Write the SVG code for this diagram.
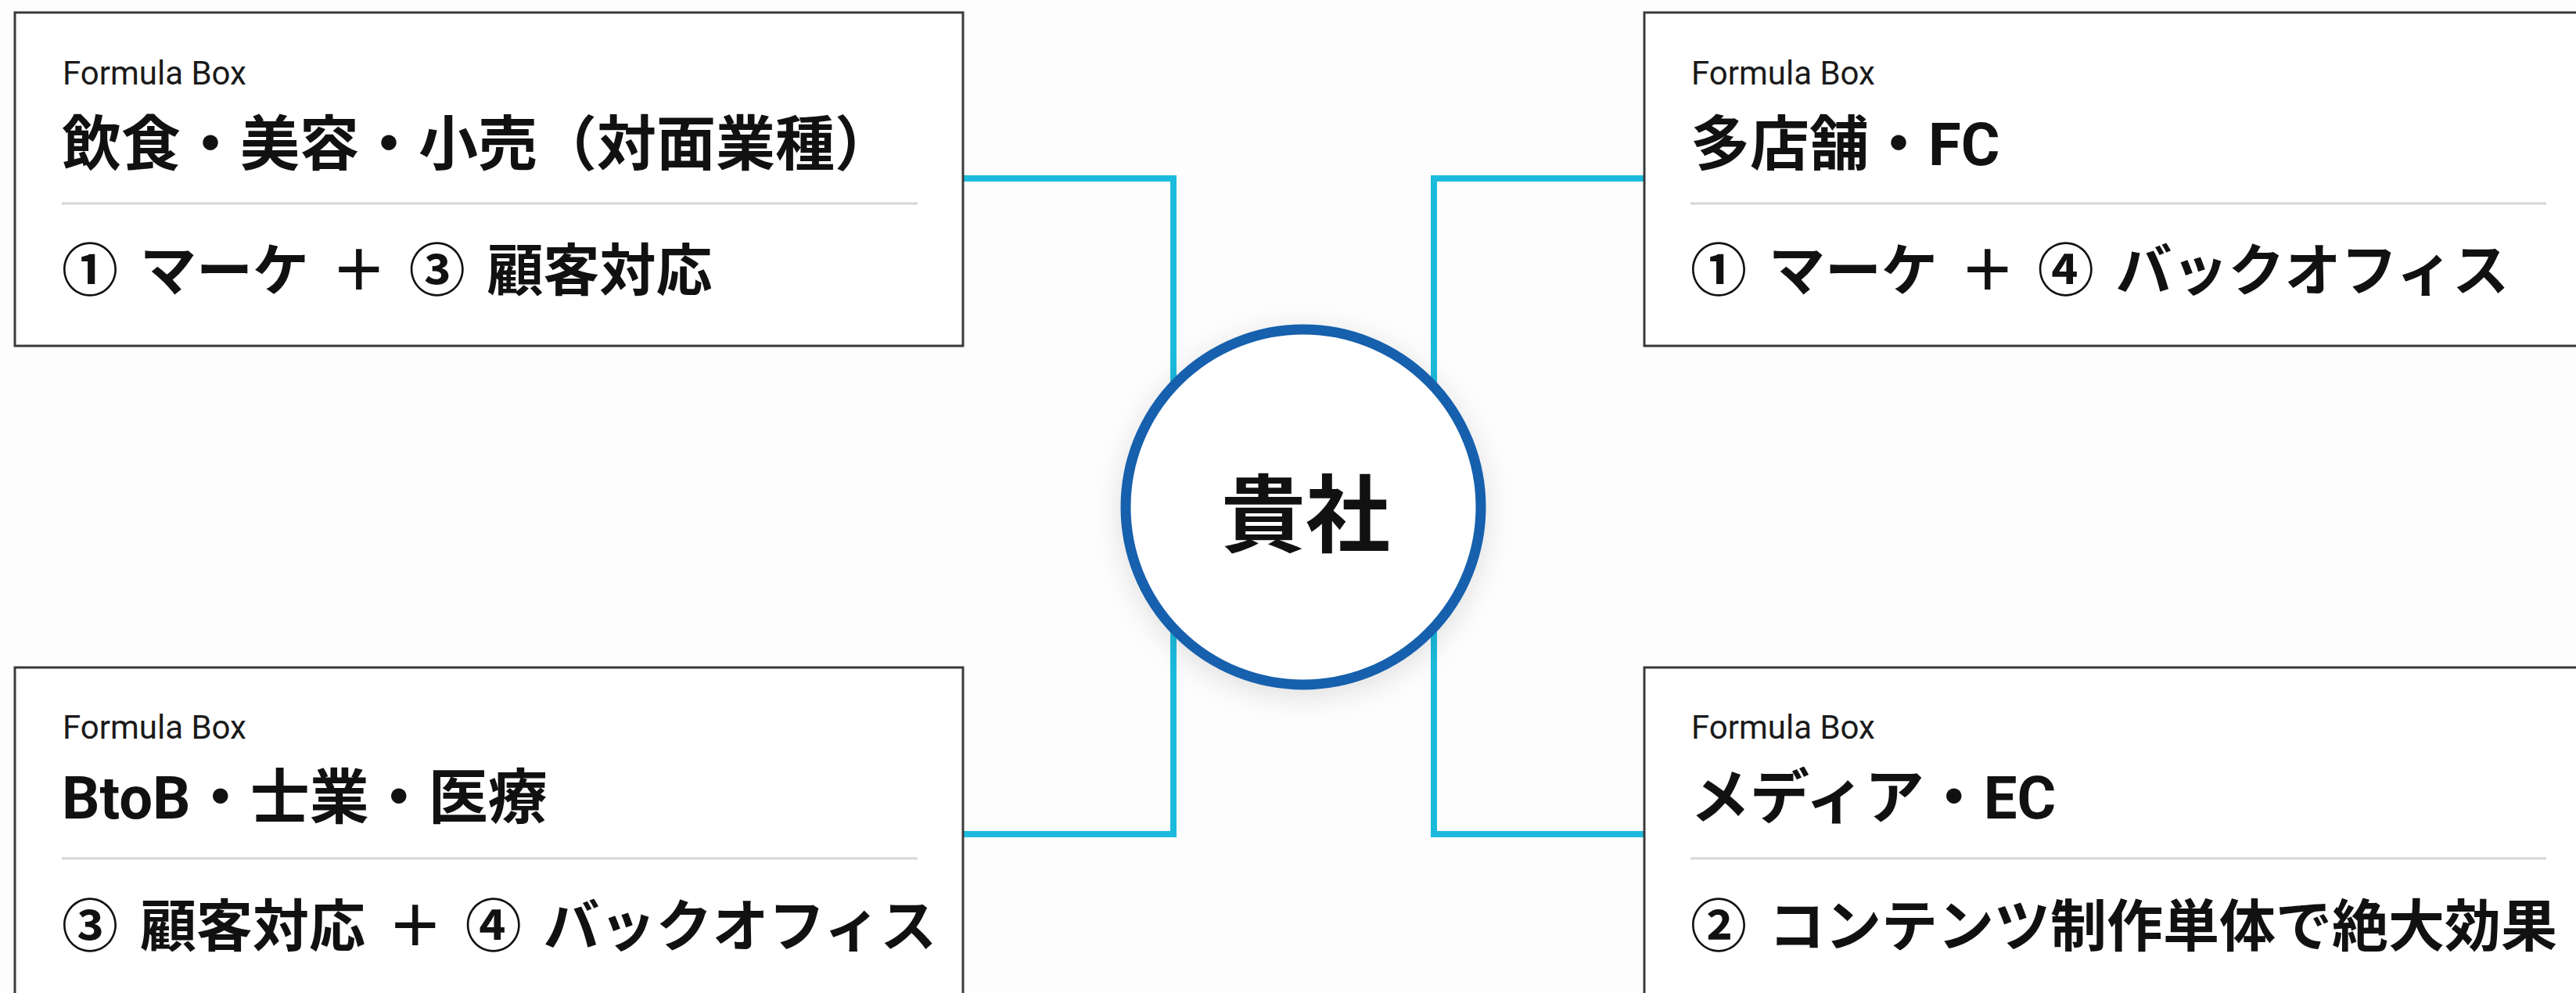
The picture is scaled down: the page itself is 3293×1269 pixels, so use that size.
<svg xmlns="http://www.w3.org/2000/svg" width="3293" height="1269" viewBox="0 0 3293 1269">
<style>
.box{fill:#ffffff;stroke:#3a3a3a;stroke-width:3}
.div{stroke:#d6d6d6;stroke-width:3}
.lbl{font-family:Roboto,"Noto Sans CJK JP",sans-serif;font-size:42px;fill:#1a1a1a}
.ttl{font-family:Roboto,"Noto Sans CJK JP",sans-serif;font-size:76px;font-weight:700;fill:#111111}
.fml{font-family:Roboto,"Noto Sans CJK JP",sans-serif;font-size:72px;font-weight:700;fill:#111111;word-spacing:10px}
.conn{fill:none;stroke:#1cbbdd;stroke-width:8}
.hub{font-family:"Noto Sans CJK JP",sans-serif;font-size:108px;font-weight:700;fill:#111111}
</style>
<defs>
<filter id="sh" x="-30%" y="-30%" width="160%" height="160%">
<feDropShadow dx="0" dy="8" stdDeviation="18" flood-color="#000000" flood-opacity="0.12"/>
</filter>
</defs>
<rect width="3293" height="1269" fill="#fdfdfd"/>
<g id="connectors">
<polyline class="conn" points="1231,228 1500,228 1500,1066 1231,1066"/>
<polyline class="conn" points="2102,228 1833,228 1833,1066 2102,1066"/>
</g>
<g id="node-tl">
<rect class="box" x="19" y="16" width="1212" height="426"/>
<text class="lbl" x="80" y="108">Formula Box</text>
<text class="ttl" x="79" y="185" dominant-baseline="central">飲食・美容・小売（対面業種）</text>
<line class="div" x1="79" y1="260" x2="1173" y2="260"/>
<text class="fml" x="79" y="346" dominant-baseline="central">① マーケ ＋ ③ 顧客対応</text>
</g>
<g id="node-tr">
<rect class="box" x="2102" y="16" width="1230" height="426"/>
<text class="lbl" x="2162" y="108">Formula Box</text>
<text class="ttl" x="2161" y="185" dominant-baseline="central">多店舗・FC</text>
<line class="div" x1="2161" y1="260" x2="3255" y2="260"/>
<text class="fml" x="2161" y="346" dominant-baseline="central">① マーケ ＋ ④ バックオフィス</text>
</g>
<g id="node-bl">
<rect class="box" x="19" y="853" width="1212" height="440"/>
<text class="lbl" x="80" y="944">Formula Box</text>
<text class="ttl" x="79" y="1020" dominant-baseline="central">BtoB・士業・医療</text>
<line class="div" x1="79" y1="1097" x2="1173" y2="1097"/>
<text class="fml" x="79" y="1184" dominant-baseline="central">③ 顧客対応 ＋ ④ バックオフィス</text>
</g>
<g id="node-br">
<rect class="box" x="2102" y="853" width="1230" height="440"/>
<text class="lbl" x="2162" y="944">Formula Box</text>
<text class="ttl" x="2161" y="1020" dominant-baseline="central">メディア・EC</text>
<line class="div" x1="2161" y1="1097" x2="3255" y2="1097"/>
<text class="fml" x="2161" y="1184" dominant-baseline="central">② コンテンツ制作単体で絶大効果</text>
</g>
<g id="node-hub">
<circle cx="1666" cy="648" r="227" fill="#ffffff" stroke="#1760ad" stroke-width="13" filter="url(#sh)"/>
<text class="hub" x="1669" y="650" text-anchor="middle" dominant-baseline="central">貴社</text>
</g>
</svg>
